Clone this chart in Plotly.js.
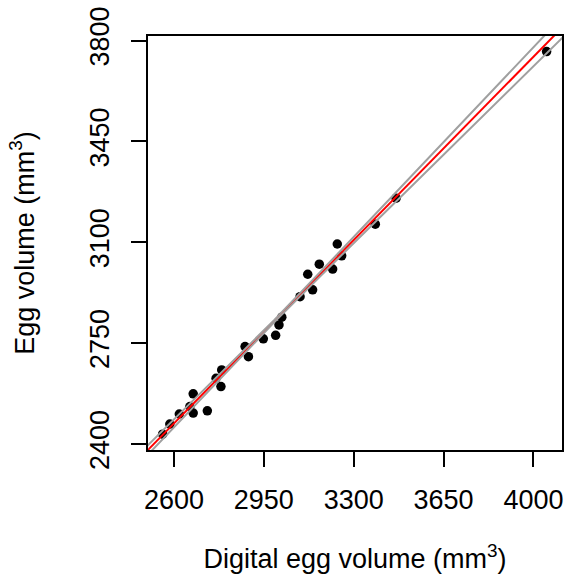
<!DOCTYPE html>
<html>
<head>
<meta charset="utf-8">
<script src="https://cdn.plot.ly/plotly-3.0.1.min.js"></script>
<style>html,body{margin:0;padding:0;background:#fff;}#chart{width:566px;height:578px;}</style>
</head>
<body>
<div id="chart"></div>
<script>
// Observed points (digital vs measured egg volume, mm^3)
const digitalVolume = [2556, 2584, 2621, 2662, 2675, 2675, 2730, 2764, 2786, 2783, 2877, 2890, 2948,
  2996, 3009, 3020, 3091, 3121, 3140, 3166, 3218, 3236, 3253, 3384, 3465, 4051];
const eggVolume = [2434, 2469, 2504, 2530, 2574, 2507, 2515, 2628, 2657, 2599, 2738, 2703, 2765,
  2777, 2813, 2840, 2911, 2989, 2935, 3024, 3007, 3094, 3053, 3163, 3253, 3762];

// Fitted line and confidence band
const lineX = [2480, 2600, 2750, 2990, 3250, 3500, 3750, 4000, 4130];
const fitY = [2362.3, 2471.4, 2607.8, 2825.9, 3062.3, 3289.5, 3516.8, 3744.0, 3862.2];
const lowerY = [2345.3, 2458.1, 2599.0, 2821.9, 3053.0, 3272.5, 3491.8, 3711.0, 3825.0];
const upperY = [2379.3, 2484.7, 2616.6, 2829.9, 3071.6, 3306.5, 3541.8, 3777.0, 3899.4];

const xTicks = [2600, 2950, 3300, 3650, 4000];
const yTicks = [2400, 2750, 3100, 3450, 3800];

const FONT = 'Liberation Sans, Arial, Helvetica, sans-serif';

const traces = [
  {x: digitalVolume, y: eggVolume, type: 'scatter', mode: 'markers',
   marker: {color: '#000', size: 9.5, line: {width: 0}}, hoverinfo: 'x+y'},
  {x: lineX, y: fitY, type: 'scatter', mode: 'lines', line: {color: '#ff0000', width: 2}},
  {x: lineX, y: lowerY, type: 'scatter', mode: 'lines', line: {color: '#a0a0a0', width: 2}},
  {x: lineX, y: upperY, type: 'scatter', mode: 'lines', line: {color: '#a0a0a0', width: 2}}
];

const layout = {
  width: 566, height: 578,
  margin: {l: 148, r: 4, t: 36, b: 128, pad: 0},
  paper_bgcolor: '#fff', plot_bgcolor: '#fff',
  showlegend: false,
  font: {family: FONT, size: 27, color: '#000'},
  xaxis: {
    range: [2499, 4111], tickmode: 'array', tickvals: xTicks, ticktext: xTicks.map(String),
    showgrid: false, zeroline: false, showline: true, mirror: true, linecolor: '#000', linewidth: 2,
    ticks: 'outside', ticklen: 15, tickwidth: 2, tickcolor: '#000',
    tickfont: {family: FONT, size: 27, color: '#000'}, ticklabelstandoff: 10,
    title: {text: 'Digital egg volume (mm<sup>3</sup>)', font: {family: FONT, size: 27, color: '#000'}, standoff: 35},
    automargin: false
  },
  yaxis: {
    range: [2379, 3816], tickmode: 'array', tickvals: yTicks, ticktext: yTicks.map(String),
    showgrid: false, zeroline: false, showline: true, mirror: true, linecolor: '#000', linewidth: 2,
    ticks: 'outside', ticklen: 15, tickwidth: 2, tickcolor: '#000', tickangle: -90,
    tickfont: {family: FONT, size: 27, color: '#000'}, ticklabelstandoff: 11,
    title: {text: 'Egg volume (mm<sup>3</sup>)', font: {family: FONT, size: 27, color: '#000'}, standoff: 43},
    automargin: false
  }
};

Plotly.newPlot('chart', traces, layout, {displayModeBar: false, staticPlot: true});
</script>
</body>
</html>
